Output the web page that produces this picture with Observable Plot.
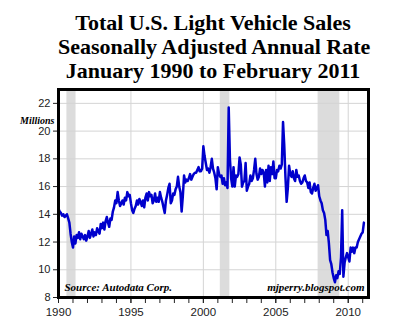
<!DOCTYPE html>
<html>
<head>
<meta charset="utf-8">
<script src="https://cdn.jsdelivr.net/npm/d3@7"></script>
<script src="https://cdn.jsdelivr.net/npm/@observablehq/plot@0.6"></script>
<style>
  body { margin: 0; background: #fff; width: 400px; height: 335px; overflow: hidden; }
  #title { height: 86px; box-sizing: border-box; padding-top: 11px; margin: 0 32px 0 58px;
    text-align: center; font-family: "Liberation Serif", "DejaVu Serif", serif; font-weight: bold;
    font-size: 22px; line-height: 24px; color: #000; white-space: nowrap; }
</style>
</head>
<body>
<div id="title">Total U.S. Light Vehicle Sales<br>Seasonally Adjusted Annual Rate<br>January 1990 to February 2011</div>
<div id="chart"></div>
<script>
// Monthly SAAR, millions of units
const s1990 = [14.4, 14.2, 14.1, 13.9, 14.0, 13.8, 13.9, 14.0, 13.7, 13.4, 12.6, 12.0];
const s1991 = [11.6, 12.4, 11.9, 12.5, 12.3, 12.7, 12.2, 12.6, 12.4, 12.2, 12.5, 12.1];
const s1992 = [12.4, 12.8, 12.3, 12.6, 12.9, 12.4, 12.7, 12.5, 13.0, 12.8, 12.6, 13.3];
const s1993 = [13.0, 13.4, 12.9, 13.5, 13.8, 13.4, 13.1, 13.7, 13.6, 14.2, 14.5, 15.0];
const s1994 = [14.8, 15.6, 15.0, 14.6, 14.8, 15.0, 14.7, 15.2, 15.0, 15.6, 15.3, 15.4];
const s1995 = [14.8, 14.3, 14.1, 14.4, 14.6, 15.0, 14.7, 15.1, 14.9, 14.6, 15.0, 14.5];
const s1996 = [15.2, 15.5, 15.0, 15.6, 15.3, 15.4, 14.8, 15.0, 15.5, 14.9, 15.2, 14.9];
const s1997 = [15.6, 15.2, 14.9, 14.5, 14.1, 15.0, 15.4, 15.9, 16.2, 14.8, 15.0, 15.5];
const s1998 = [15.4, 15.8, 16.0, 16.7, 16.0, 15.6, 14.2, 15.3, 16.8, 16.3, 16.5, 16.4];
const s1999 = [16.6, 16.9, 16.5, 16.7, 16.9, 17.0, 17.0, 17.2, 17.4, 17.1, 17.1, 17.3];
const s2000 = [18.9, 18.2, 17.7, 17.2, 17.3, 17.0, 17.4, 18.0, 17.3, 17.0, 16.6, 15.8];
const s2001 = [17.4, 16.9, 16.7, 16.8, 16.2, 16.6, 16.1, 16.3, 15.9, 21.7, 18.0, 16.6];
const s2002 = [16.0, 17.4, 16.0, 16.8, 16.7, 16.9, 18.1, 17.6, 16.0, 16.3, 16.4, 17.7];
const s2003 = [15.7, 16.0, 16.2, 16.8, 16.4, 16.6, 17.2, 18.0, 16.9, 16.5, 16.7, 17.3];
const s2004 = [16.9, 17.2, 17.0, 16.0, 17.2, 16.3, 17.5, 16.4, 17.4, 16.9, 17.8, 16.6];
const s2005 = [16.6, 17.2, 17.1, 17.5, 17.3, 17.6, 20.65, 19.0, 16.7, 14.9, 15.9, 17.5];
const s2006 = [16.9, 16.7, 17.1, 16.6, 16.4, 17.2, 16.7, 16.8, 16.4, 16.2, 16.3, 16.6];
const s2007 = [16.8, 16.4, 16.3, 15.9, 16.3, 15.6, 15.5, 15.9, 16.2, 15.7, 15.9, 16.1];
const s2008 = [15.3, 15.0, 14.8, 14.3, 14.1, 13.6, 12.5, 12.8, 11.9, 10.7, 10.4, 9.8];
const s2009 = [9.4, 9.1, 9.6, 9.4, 9.9, 9.7, 10.9, 14.3, 9.5, 10.5, 10.9, 11.2];
const s2010 = [10.9, 10.6, 11.6, 11.3, 11.6, 11.2, 11.6, 11.6, 12.0, 12.2, 12.4, 12.6];
const s2011 = [12.7, 13.4];

const startYears = [1990,1991,1992,1993,1994,1995,1996,1997,1998,1999,2000,2001,2002,2003,2004,2005,2006,2007,2008,2009,2010,2011];
const series = [s1990,s1991,s1992,s1993,s1994,s1995,s1996,s1997,s1998,s1999,s2000,s2001,s2002,s2003,s2004,s2005,s2006,s2007,s2008,s2009,s2010,s2011];

// Recessions (decimal years)
const recStart = [1990.58, 2001.17, 2007.92];
const recEnd = [1991.21, 2001.83, 2009.42];

const yTicks = [8, 10, 12, 14, 16, 18, 20, 22];
const xMajor = [1990, 1995, 2000, 2005, 2010];
const xMinor = d3.range(1990, 2012);
const yDomain = [8, 23];
const xDomain = [1990, 2011.4];

const data = [];
series.forEach((arr, i) => arr.forEach((v, m) => data.push({t: startYears[i] + m / 12, v})));
const recessions = recStart.map((s, i) => ({s, e: recEnd[i], lo: yDomain[0], hi: yDomain[1]}));

const serif = "'Liberation Serif', 'DejaVu Serif', serif";

const chart = Plot.plot({
  width: 400,
  height: 249,
  marginLeft: 58,
  marginRight: 32,
  marginTop: 3,
  marginBottom: 38,
  style: {fontFamily: "'Liberation Sans', Arial, sans-serif", background: "#fff"},
  x: {domain: xDomain, axis: null},
  y: {domain: yDomain, axis: null},
  marks: [
    Plot.rect(recessions, {x1: "s", x2: "e", y1: "lo", y2: "hi", fill: "#dcdcdc"}),
    Plot.gridY(yTicks, {stroke: "#d4d4d4", strokeOpacity: 1, strokeWidth: 1}),
    Plot.gridX(xMajor, {stroke: "#d4d4d4", strokeOpacity: 1, strokeWidth: 1}),
    Plot.line(data, {x: "t", y: "v", stroke: "#0000cc", strokeWidth: 2.5, strokeLinejoin: "round"}),
    Plot.axisY(yTicks, {tickSize: 5, tickPadding: 3, fontSize: 11, stroke: "#222", color: "#222", label: null}),
    Plot.axisX(xMinor, {tickSize: 6, tickFormat: () => "", stroke: "#222", label: null}),
    Plot.axisX(xMajor, {tickSize: 6, tickPadding: 4, fontSize: 11.5, tickFormat: d => String(d), stroke: "#222", color: "#222", label: null}),
    Plot.frame({stroke: "#000", strokeWidth: 3}),
    Plot.text(["Millions"], {frameAnchor: "top-left", dx: -4, dy: 27, textAnchor: "end",
      fontFamily: serif, fontStyle: "italic", fontWeight: "bold", fontSize: 10, fill: "#000"}),
    Plot.text(["Source: Autodata Corp."], {frameAnchor: "bottom-left", dx: 6, dy: -7, textAnchor: "start",
      fontFamily: serif, fontStyle: "italic", fontWeight: "bold", fontSize: 11, fill: "#000"}),
    Plot.text(["mjperry.blogspot.com"], {frameAnchor: "bottom-right", dx: -4, dy: -7, textAnchor: "end",
      fontFamily: serif, fontStyle: "italic", fontWeight: "bold", fontSize: 11, fill: "#000"})
  ]
});
document.getElementById("chart").appendChild(chart);
</script>
</body>
</html>
